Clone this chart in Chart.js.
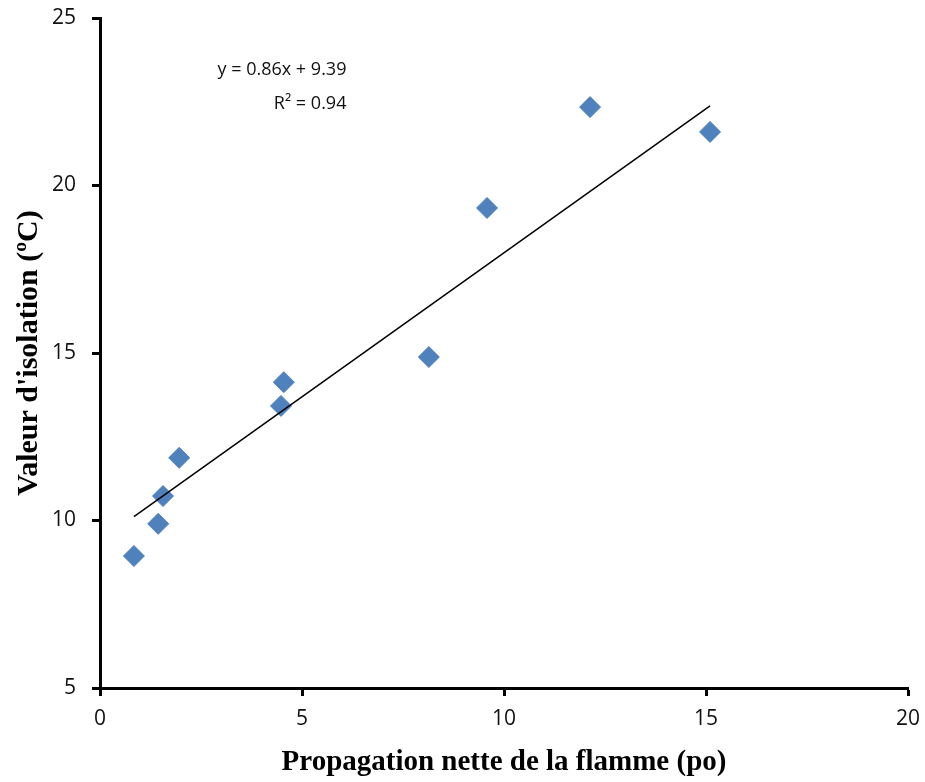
<!DOCTYPE html>
<html>
<head>
<meta charset="utf-8">
<script src="https://cdn.jsdelivr.net/npm/chart.js@4/dist/chart.umd.min.js"></script>
<style>
  html, body { margin: 0; padding: 0; background: #fff; }
  #wrap { width: 925px; height: 782px; }
</style>
</head>
<body>
<div id="wrap"><canvas id="myChart" width="925" height="782"></canvas></div>
<script>
// propagation nette (po) et valeur d'isolation (ºC)
const propagation = [0.84, 1.44, 1.56, 1.96, 4.48, 4.55, 8.14, 9.58, 12.13, 15.10];
const isolation = [8.94, 9.90, 10.73, 11.87, 13.42, 14.13, 14.88, 19.33, 22.34, 21.60];

// courbe de tendance linéaire
const pente = 0.86;
const ordonnee = 9.39;
const r2 = 0.94;

const xTicks = [0, 5, 10, 15, 20];
const yTicks = [5, 10, 15, 20, 25];

const points = propagation.map((x, i) => ({ x, y: isolation[i] }));
const xMin = Math.min(...propagation);
const xMax = Math.max(...propagation);
const tendance = [
  { x: xMin, y: pente * xMin + ordonnee },
  { x: xMax, y: pente * xMax + ordonnee },
];

const equationPlugin = {
  id: 'equation',
  afterDatasetsDraw(chart) {
    const { ctx, scales } = chart;
    const px = scales.x.getPixelForValue(6.1);
    ctx.save();
    ctx.fillStyle = '#111';
    ctx.font = '18px "Open Sans", "Noto Sans", sans-serif';
    ctx.textAlign = 'right';
    ctx.textBaseline = 'middle';
    ctx.fillText('y = ' + pente.toFixed(2) + 'x + ' + ordonnee.toFixed(2), px, scales.y.getPixelForValue(23.45));
    ctx.fillText('R² = ' + r2.toFixed(2), px, scales.y.getPixelForValue(22.45));
    ctx.restore();
  },
};

const ctx = document.getElementById('myChart').getContext('2d');
new Chart(ctx, {
  type: 'scatter',
  data: {
    datasets: [
      {
        type: 'line',
        label: 'Tendance',
        data: tendance,
        borderColor: '#000',
        borderWidth: 1.5,
        pointRadius: 0,
        fill: false,
      },
      {
        label: 'Valeur d\'isolation',
        data: points,
        pointStyle: 'rectRot',
        pointRadius: 10.5,
        backgroundColor: '#4F81BD',
        borderColor: '#4F81BD',
        borderWidth: 1,
      },
    ],
  },
  options: {
    responsive: false,
    animation: false,
    layout: { padding: { left: 0, top: 18, right: 17, bottom: 0 } },
    plugins: {
      legend: { display: false },
      tooltip: { enabled: false },
    },
    scales: {
      x: {
        type: 'linear',
        min: 0,
        max: 20,
        afterFit(scale) {
          scale.height = 94;
          scale.paddingLeft = 0;
          scale.paddingRight = 0;
        },
        afterBuildTicks(scale) { scale.ticks = xTicks.map(v => ({ value: v })); },
        border: { color: '#000', width: 3 },
        grid: { drawOnChartArea: false, color: '#000', tickLength: 8, tickWidth: 3 },
        ticks: {
          color: '#111',
          padding: 10,
          font: { family: '"Open Sans", "Noto Sans", sans-serif', size: 21 },
        },
        title: {
          display: true,
          text: 'Propagation nette de la flamme (po)',
          color: '#000',
          padding: { top: 0, bottom: 2 },
          font: { family: '"Liberation Serif", "Times New Roman", serif', size: 29, weight: 'bold' },
        },
      },
      y: {
        type: 'linear',
        min: 5,
        max: 25,
        afterFit(scale) {
          scale.width = 100;
          scale.paddingTop = 0;
          scale.paddingBottom = 0;
        },
        afterBuildTicks(scale) { scale.ticks = yTicks.map(v => ({ value: v })); },
        border: { color: '#000', width: 3 },
        grid: { drawOnChartArea: false, color: '#000', tickLength: 8, tickWidth: 3 },
        ticks: {
          color: '#111',
          padding: 16,
          font: { family: '"Open Sans", "Noto Sans", sans-serif', size: 21 },
        },
        title: {
          display: true,
          text: 'Valeur d\'isolation (ºC)',
          color: '#000',
          padding: { top: 11, bottom: 0 },
          font: { family: '"Liberation Serif", "Times New Roman", serif', size: 30, weight: 'bold' },
        },
      },
    },
  },
  plugins: [equationPlugin],
});
</script>
</body>
</html>
